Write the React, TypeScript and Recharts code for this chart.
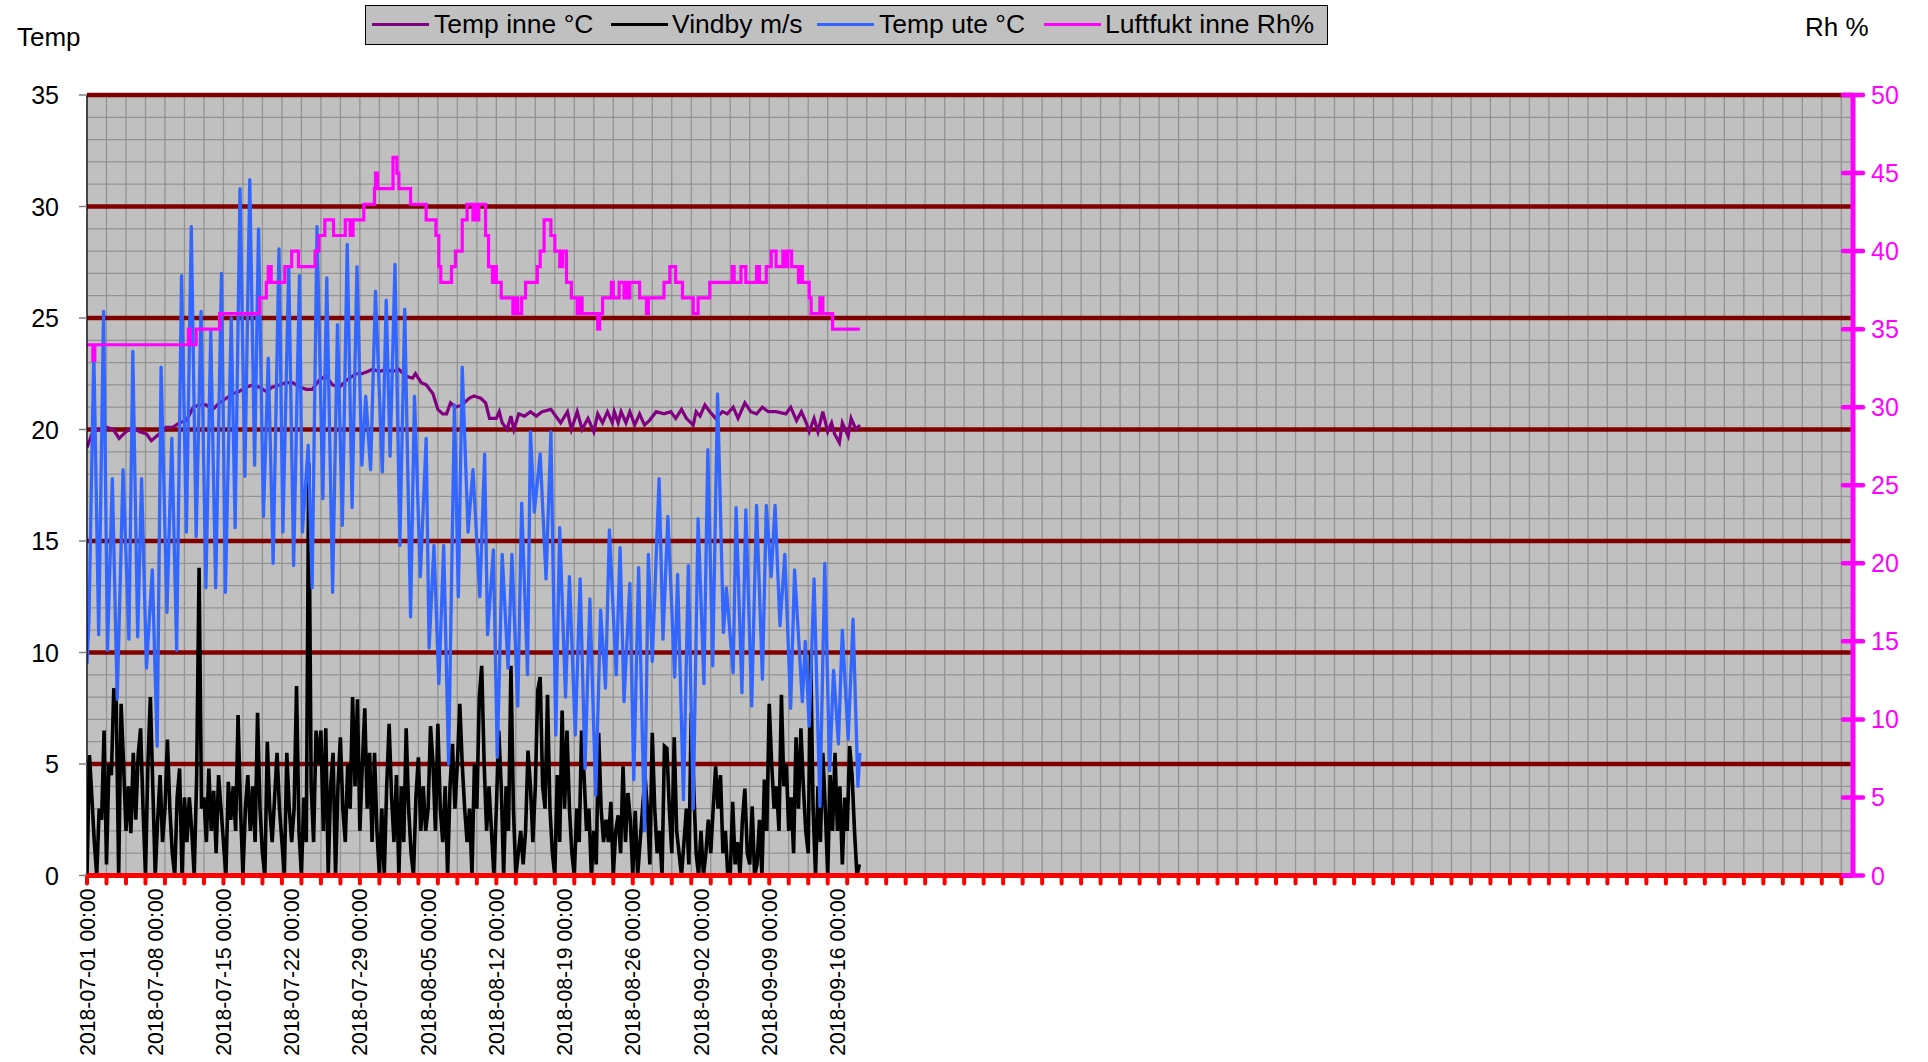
import React from "react"
import { LineChart, Line, XAxis, YAxis, CartesianGrid } from "recharts"

// dates on the x axis (days from 2018-07-01 00:00)
const xLabels = [
  "2018-07-01 00:00", "2018-07-08 00:00", "2018-07-15 00:00", "2018-07-22 00:00",
  "2018-07-29 00:00", "2018-08-05 00:00", "2018-08-12 00:00", "2018-08-19 00:00",
  "2018-08-26 00:00", "2018-09-02 00:00", "2018-09-09 00:00", "2018-09-16 00:00",
]
const labelDays = xLabels.map((_, i) => i * 7)
const tempTicks = [0, 5, 10, 15, 20, 25, 30, 35]
const rhTicks = [0, 5, 10, 15, 20, 25, 30, 35, 40, 45, 50]
const X_END = 181.2

// Temp inne °C  [day, value]
const tempInne: [number, number][] = [
  [0, 19.2], [0.6, 19.9], [1.3, 20.0], [2.0, 20.1], [2.7, 20.0], [3.3, 19.6], [4.0, 19.9], [4.7, 20.1],
  [5.4, 19.9], [6.1, 19.8], [6.6, 19.5], [7.4, 19.8], [8.1, 20.1], [8.8, 20.1], [9.5, 20.3], [10.2, 20.4],
  [10.9, 21.0], [11.5, 21.1], [12.2, 21.1], [12.9, 20.9], [13.6, 21.2], [14.3, 21.4], [14.9, 21.6], [15.6, 21.7],
  [16.3, 21.9], [17.0, 22.0], [17.7, 21.9], [18.4, 21.7], [19.0, 21.9], [19.7, 22.0], [20.4, 22.1], [21.1, 22.1],
  [21.8, 21.9], [22.5, 21.8], [23.1, 21.8], [23.8, 22.2], [24.5, 22.4], [25.2, 22.0], [25.9, 21.9], [26.6, 22.2],
  [27.6, 22.5], [28.2, 22.5], [28.8, 22.6], [29.3, 22.7], [30.0, 22.6], [30.7, 22.7], [31.3, 22.6], [32.0, 22.7],
  [32.7, 22.4], [33.4, 22.3], [33.7, 22.5], [34.3, 22.1], [34.8, 22.0], [35.5, 21.6], [36.0, 20.9], [36.5, 20.7],
  [36.9, 20.7], [37.3, 21.2], [37.8, 21.0], [38.5, 21.1], [39.2, 21.4], [39.7, 21.5], [40.4, 21.4], [40.9, 21.2],
  [41.3, 20.5], [42.0, 20.5], [42.3, 20.8], [42.6, 20.3], [43.1, 20.0], [43.5, 20.6], [43.8, 20.0], [44.3, 20.7],
  [44.9, 20.6], [45.5, 20.8], [46.1, 20.6], [46.7, 20.8], [47.6, 20.9], [48.1, 20.6], [48.6, 20.3], [49.3, 20.8],
  [49.7, 20.0], [50.3, 20.8], [50.8, 20.0], [51.4, 20.5], [52.0, 19.9], [52.4, 20.7], [52.9, 20.3], [53.4, 20.8],
  [53.9, 20.3], [54.1, 20.8], [54.5, 20.3], [54.8, 20.8], [55.3, 20.3], [55.7, 20.8], [56.2, 20.2], [56.7, 20.7],
  [57.2, 20.2], [57.7, 20.4], [58.4, 20.8], [59.2, 20.7], [59.9, 20.8], [60.4, 20.5], [61.0, 20.9], [61.5, 20.5],
  [62.2, 20.2], [62.5, 20.8], [62.9, 20.6], [63.4, 21.1], [63.9, 20.8], [64.5, 20.5], [65.2, 20.8], [65.7, 20.7],
  [66.3, 21.0], [66.8, 20.5], [67.5, 21.2], [68.1, 20.8], [68.7, 20.7], [69.3, 21.0], [69.9, 20.8], [70.7, 20.8],
  [71.7, 20.7], [72.2, 21.0], [72.8, 20.4], [73.3, 20.8], [73.8, 20.3], [74.1, 19.9], [74.6, 20.5], [75.0, 19.9],
  [75.5, 20.8], [76.0, 19.9], [76.4, 20.3], [76.7, 19.8], [77.2, 19.4], [77.5, 20.3], [78.1, 19.7], [78.4, 20.5],
  [78.9, 20.0], [79.3, 20.2],
]

// Vindby m/s, one reading every 6 hours from day 0
const vindby = [
  0, 5.4, 3.5, 1.5, 0, 3, 2.5, 6.5, 0.5, 5, 4.5, 8.4, 7.8, 0, 7.7, 5,
  2, 4, 1.9, 5.5, 2.5, 5.4, 6.6, 3, 0, 5, 8.0, 4, 0, 2.5, 4.5, 1.5,
  3, 6.1, 3, 1, 0, 3.5, 4.8, 0, 3.5, 1.5, 3.5, 2, 0, 4.4, 13.8, 3,
  3.5, 1.5, 4.8, 2, 3.8, 1, 4.5, 3, 1.5, 0, 4.2, 2.5, 4, 2, 7.2, 3,
  0, 3, 4.5, 2, 4, 1.5, 7.3, 3, 1, 0, 6.0, 3, 1.5, 3.5, 5.5, 3,
  1.5, 0, 5.5, 3, 1.5, 3, 8.5, 2, 0, 3.5, 1.5, 18.5, 4, 1.5, 6.5, 5,
  6.5, 2, 6.6, 0, 4, 5.5, 0, 4, 6.2, 3, 1.5, 5, 3, 8.0, 4, 7.9,
  2, 5, 7.5, 3, 5.5, 1.5, 5.5, 2, 0, 3, 0, 4, 6.8, 3.5, 1.5, 4.5,
  0, 4, 1.5, 6.6, 3, 1, 0, 3.5, 5.3, 2, 4, 2, 3, 6.7, 5, 2,
  6.8, 3, 1.5, 4, 0, 4, 5.9, 3, 5, 7.7, 5, 3, 1.5, 3, 0, 5,
  3, 8.0, 9.4, 5, 2, 4, 2, 0, 3, 6.5, 4, 0, 4, 2, 9.4, 3,
  0, 1, 2, 0.5, 2, 5.6, 4, 1.5, 4, 8.3, 8.9, 4, 3, 8.1, 3, 1,
  0, 4.5, 1.5, 7.4, 3, 6.5, 3, 1, 0, 3, 1.5, 6.5, 4.5, 2, 3, 0,
  2, 0.5, 6.4, 3, 1.5, 2.5, 1.5, 3.3, 0, 2, 2.7, 1, 4.9, 1.5, 3.7, 2.5,
  0, 2.9, 0, 1.5, 3, 4.5, 3, 0.5, 6.4, 3, 1, 2, 0, 5.8, 5.7, 3,
  1, 6.2, 2, 1, 0, 1.5, 3, 0.5, 7.3, 4, 1, 0, 2, 0, 1, 2.5,
  1, 3, 4.9, 3, 4.5, 1, 2, 0, 0, 3.3, 0.5, 1.5, 0, 2.5, 3.9, 1,
  0.5, 3.1, 0, 0.5, 2.5, 0, 4.3, 2, 7.7, 5, 3, 4, 2, 8.1, 4, 5,
  2, 3.5, 1, 6.2, 3, 6.6, 4, 2, 1, 10.0, 3, 0, 4, 1.5, 5.5, 3,
  0, 4.5, 2, 5.5, 2, 4, 0.5, 3.5, 2, 5.8, 4.5, 2, 0, 0.5,
]
const VIND_STEP = 0.25

// Temp ute °C  [day, value] (night lows / day highs)
const tempUte: [number, number][] = [
  [0, 9.5], [0.2, 11.4], [0.7, 23.5], [1.2, 10.8], [1.7, 25.3], [2.1, 10.1], [2.6, 17.8], [3.1, 7.9],
  [3.7, 18.2], [4.3, 10.6], [4.7, 23.5], [5.2, 10.7], [5.6, 17.8], [6.1, 9.3], [6.7, 13.7], [7.2, 5.8],
  [7.6, 22.8], [8.2, 11.8], [8.7, 19.6], [9.2, 10.1], [9.7, 26.9], [10.2, 15.4], [10.7, 29.1], [11.2, 15.2],
  [11.7, 25.3], [12.2, 12.9], [12.7, 24.4], [13.2, 12.9], [13.8, 27.0], [14.2, 12.7], [14.8, 25.0], [15.2, 15.6],
  [15.7, 30.8], [16.2, 17.9], [16.7, 31.2], [17.2, 18.4], [17.6, 29.0], [18.1, 16.1], [18.6, 23.2], [19.1, 14.0],
  [19.7, 28.1], [20.1, 15.4], [20.7, 27.3], [21.2, 13.9], [21.8, 26.9], [22.1, 15.4], [22.7, 19.3], [23.1, 12.9],
  [23.6, 29.1], [24.2, 16.9], [24.6, 26.8], [25.2, 12.7], [25.7, 24.7], [26.2, 15.7], [26.7, 28.3], [27.2, 16.5],
  [27.7, 27.3], [28.2, 18.4], [28.6, 21.5], [29.1, 18.2], [29.6, 26.2], [30.3, 18.1], [30.7, 25.8], [31.1, 18.8],
  [31.6, 27.4], [32.1, 14.8], [32.6, 25.4], [33.2, 11.6], [33.6, 21.5], [34.2, 13.4], [34.8, 19.6], [35.1, 10.2],
  [35.6, 14.8], [36.1, 8.6], [36.6, 14.8], [37.1, 5.0], [37.7, 21.1], [38.1, 12.5], [38.5, 22.8], [39.1, 15.4],
  [39.6, 18.2], [40.3, 12.5], [40.8, 18.9], [41.1, 10.8], [41.7, 14.6], [42.1, 5.3], [42.6, 14.4], [43.2, 9.3],
  [43.6, 14.4], [44.2, 7.6], [44.6, 16.7], [45.2, 9.0], [45.5, 19.9], [45.9, 16.3], [46.5, 18.9], [47.1, 13.3],
  [47.6, 19.9], [48.1, 6.3], [48.5, 15.6], [49.1, 8.0], [49.5, 13.4], [50.1, 6.3], [50.6, 13.3], [51.1, 4.8],
  [51.6, 12.4], [52.2, 3.6], [52.7, 11.9], [53.2, 8.4], [53.6, 15.5], [54.3, 9.0], [54.7, 14.7], [55.1, 7.8],
  [55.7, 13.1], [56.1, 4.3], [56.6, 13.8], [57.2, 2.0], [57.6, 14.4], [58.0, 9.6], [58.7, 17.8], [59.1, 10.6],
  [59.6, 16.1], [60.3, 8.9], [60.6, 13.5], [61.2, 3.4], [61.7, 13.9], [62.2, 3.0], [62.7, 16.0], [63.3, 8.6],
  [63.7, 19.1], [64.2, 9.4], [64.7, 21.6], [65.3, 10.9], [65.6, 12.9], [66.3, 9.1], [66.6, 16.5], [67.2, 8.2],
  [67.6, 16.4], [68.2, 7.6], [68.7, 16.6], [69.3, 8.8], [69.7, 16.6], [70.2, 13.4], [70.6, 16.6], [71.1, 11.2],
  [71.6, 14.4], [72.2, 7.5], [72.6, 13.7], [73.4, 7.8], [73.7, 10.5], [74.1, 6.7], [74.6, 13.3], [75.2, 3.1],
  [75.7, 14.0], [76.2, 4.7], [76.6, 9.2], [77.1, 5.9], [77.5, 11.0], [78.1, 6.1], [78.6, 11.5], [79.1, 4.0],
  [79.3, 5.5],
]

// Luftfukt inne Rh%  [day, value] - value holds until next change
const luftfukt: [number, number][] = [
  [0, 34], [0.6, 33], [0.8, 34], [10.4, 35], [10.6, 34], [11.2, 35], [13.6, 36], [17.7, 37],
  [18.4, 38], [18.6, 39], [18.9, 38], [20.3, 39], [21.0, 40], [21.7, 39], [23.4, 40], [23.8, 41],
  [24.4, 42], [25.3, 41], [26.5, 42], [27.0, 41], [27.3, 42], [28.4, 43], [29.5, 44], [29.6, 45],
  [29.8, 44], [31.4, 46], [31.8, 45], [32.0, 44], [33.2, 43], [34.8, 42], [35.8, 41], [36.1, 39],
  [36.3, 38], [37.4, 39], [37.8, 40], [38.5, 42], [39.0, 43], [39.6, 42], [39.8, 43], [40.0, 42],
  [40.2, 43], [40.9, 41], [41.2, 39], [41.6, 38], [41.8, 39], [42.0, 38], [42.5, 37], [43.7, 36],
  [44.0, 37], [44.2, 36], [44.6, 37], [45.0, 38], [46.2, 39], [46.5, 40], [46.9, 42], [47.6, 41],
  [48.0, 40], [48.5, 39], [48.8, 40], [49.2, 38], [49.7, 37], [50.3, 36], [50.5, 37], [50.8, 36],
  [52.4, 35], [52.6, 36], [52.9, 37], [53.8, 38], [54.0, 37], [54.6, 38], [55.1, 37], [55.3, 38],
  [55.6, 37], [55.7, 38], [56.7, 37], [57.4, 36], [57.6, 37], [59.2, 38], [59.8, 39], [60.4, 38],
  [61.1, 37], [62.2, 36], [62.7, 37], [63.9, 38], [66.2, 39], [66.4, 38], [67.1, 39], [67.6, 38],
  [68.7, 39], [69.0, 38], [69.7, 39], [70.2, 40], [70.7, 39], [71.4, 40], [71.7, 39], [71.9, 40],
  [72.3, 39], [73.0, 38], [73.2, 39], [73.4, 38], [74.1, 37], [74.3, 36], [75.2, 37], [75.5, 36],
  [76.5, 35], [79.3, 35],
]

const legendItems = [
  { name: "Temp inne °C", color: "#800080", line: 371, text: 433 },
  { name: "Vindby m/s", color: "#000000", line: 610, text: 671 },
  { name: "Temp ute °C", color: "#3366FF", line: 816, text: 878 },
  { name: "Luftfukt inne Rh%", color: "#FF00FF", line: 1043, text: 1104 },
]

const FONT = "'Liberation Sans', Arial, sans-serif"

const toPoints = (rows: [number, number][]) => rows.map(([d, v]) => ({ d, v }))

const evenDays: number[] = []
for (let d = 0; d <= 180; d += 2) evenDays.push(d)
const xTicks = Array.from(new Set([...evenDays, ...labelDays])).sort((a, b) => a - b)

function DayTick(props: any) {
  const { x, y, payload } = props
  const day = payload.value
  const idx = labelDays.indexOf(day)
  return (
    <g>
      {day % 2 === 0 && (
        <line x1={x} x2={x} y1={y} y2={y + 8} stroke="#FF0000" strokeWidth={4} strokeLinecap="round" />
      )}
      {idx >= 0 && (
        <text
          x={x}
          y={y + 13}
          transform={`rotate(-90 ${x} ${y + 13})`}
          textAnchor="end"
          dominantBaseline="central"
          fontSize={21.2}
          fill="#000"
        >
          {xLabels[idx]}
        </text>
      )}
    </g>
  )
}

function TempTick(props: any) {
  const { x, y, payload } = props
  return (
    <g>
      <line x1={x - 8} x2={x} y1={y} y2={y} stroke="#808080" strokeWidth={1.5} />
      <text x={x - 28} y={y} textAnchor="end" dominantBaseline="central" fontSize={25} fill="#000">
        {payload.value}
      </text>
    </g>
  )
}

function RhTick(props: any) {
  const { x, y, payload } = props
  return (
    <g>
      <line x1={x - 10} x2={x + 10} y1={y} y2={y} stroke="#FF00FF" strokeWidth={4.5} strokeLinecap="round" />
      <text x={x + 18} y={y} textAnchor="start" dominantBaseline="central" fontSize={25} fill="#FF00FF">
        {payload.value}
      </text>
    </g>
  )
}

export default function App() {
  const minorTemp: number[] = []
  for (let t = 0; t <= 35; t++) minorTemp.push(t)

  return (
    <div style={{ position: "absolute", left: 0, top: 0, width: 1928, height: 1062, background: "#fff", fontFamily: FONT }}>
      <LineChart width={1928} height={1062} margin={{ top: 95, right: 0, bottom: 0, left: 0 }}>
        <CartesianGrid
          xAxisId="x"
          yAxisId="temp"
          fill="#C0C0C0"
          fillOpacity={1}
          stroke="#939393"
          strokeWidth={1.3}
          horizontalValues={minorTemp}
          verticalValues={evenDays}
        />
        <CartesianGrid
          xAxisId="x"
          yAxisId="temp"
          vertical={false}
          stroke="#800000"
          strokeWidth={4.5}
          horizontalValues={tempTicks.filter((t) => t > 0)}
        />
        <XAxis
          xAxisId="x"
          type="number"
          dataKey="d"
          domain={[0, X_END]}
          allowDataOverflow
          ticks={xTicks}
          interval={0}
          height={186.5}
          tickSize={0}
          tickMargin={0}
          tickLine={false}
          axisLine={{ stroke: "#FF0000", strokeWidth: 5 }}
          tick={<DayTick />}
        />
        <YAxis
          yAxisId="temp"
          orientation="left"
          domain={[0, 35]}
          ticks={tempTicks}
          interval={0}
          width={87}
          tickSize={0}
          tickMargin={0}
          tickLine={false}
          axisLine={{ stroke: "#000", strokeWidth: 1.2 }}
          tick={<TempTick />}
        />
        <YAxis
          yAxisId="rh"
          orientation="right"
          domain={[0, 50]}
          ticks={rhTicks}
          interval={0}
          width={75}
          tickSize={0}
          tickMargin={0}
          tickLine={false}
          axisLine={{ stroke: "#FF00FF", strokeWidth: 5 }}
          tick={<RhTick />}
        />
        <Line
          xAxisId="x"
          yAxisId="temp"
          data={toPoints(tempInne)}
          dataKey="v"
          type="linear"
          stroke="#800080"
          strokeWidth={3.2}
          dot={false}
          isAnimationActive={false}
        />
        <Line
          xAxisId="x"
          yAxisId="temp"
          data={vindby.map((v, i) => ({ d: i * VIND_STEP, v }))}
          dataKey="v"
          type="linear"
          stroke="#000000"
          strokeWidth={3.6}
          dot={false}
          isAnimationActive={false}
        />
        <Line
          xAxisId="x"
          yAxisId="temp"
          data={toPoints(tempUte)}
          dataKey="v"
          type="linear"
          stroke="#3366FF"
          strokeWidth={3.3}
          strokeLinejoin="round"
          dot={false}
          isAnimationActive={false}
        />
        <Line
          xAxisId="x"
          yAxisId="rh"
          data={toPoints(luftfukt)}
          dataKey="v"
          type="stepAfter"
          stroke="#FF00FF"
          strokeWidth={3.2}
          dot={false}
          isAnimationActive={false}
        />
      </LineChart>

      <div style={{ position: "absolute", left: 17, top: 20, fontSize: 26, lineHeight: "34px", color: "#000" }}>Temp</div>
      <div style={{ position: "absolute", left: 1805, top: 10, fontSize: 26, lineHeight: "34px", color: "#000" }}>Rh %</div>

      <div
        style={{
          position: "absolute",
          left: 365,
          top: 5,
          width: 963,
          height: 40,
          boxSizing: "border-box",
          background: "#C0C0C0",
          border: "1.5px solid #000",
        }}
      >
        {legendItems.map((it) => (
          <React.Fragment key={it.name}>
            <div
              style={{
                position: "absolute",
                left: it.line - 365,
                top: 17,
                width: 57,
                height: 3,
                background: it.color,
              }}
            />
            <div
              style={{
                position: "absolute",
                left: it.text - 365,
                top: 1,
                fontSize: 26.5,
                lineHeight: "34px",
                color: "#000",
                whiteSpace: "nowrap",
              }}
            >
              {it.name}
            </div>
          </React.Fragment>
        ))}
      </div>
    </div>
  )
}
